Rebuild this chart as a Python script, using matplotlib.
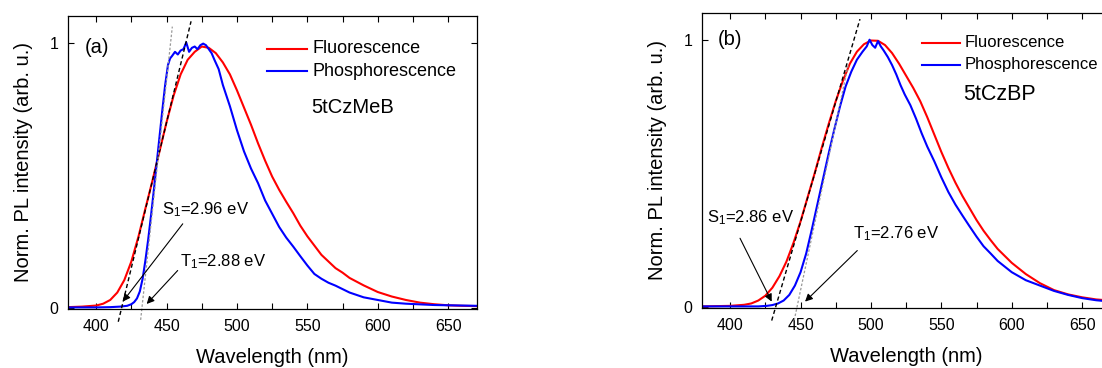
import matplotlib
matplotlib.use('Agg')
import matplotlib.pyplot as plt
from matplotlib.ticker import MultipleLocator, FixedLocator, FuncFormatter

plt.rcParams['font.family'] = ['Liberation Sans', 'DejaVu Sans']
plt.rcParams['mathtext.fontset'] = 'custom'
plt.rcParams['mathtext.rm'] = 'Liberation Sans'
plt.rcParams['mathtext.it'] = 'Liberation Sans:italic'

# ---------------------------------------------------------------------------
# Panel (a): 5tCzMeB
# ---------------------------------------------------------------------------
WL_FL_A = [380, 390, 400, 405, 410, 415, 420, 425, 430, 435, 440, 445, 450,
           455, 460, 465, 470, 475, 480, 485, 490, 495, 500, 505, 510, 515,
           520, 525, 530, 535, 540, 545, 550, 555, 560, 565, 570, 575, 580,
           590, 600, 610, 620, 630, 640, 650, 660, 670]
FL_A = [0.003, 0.005, 0.009, 0.016, 0.030, 0.058, 0.105, 0.175, 0.268, 0.375,
        0.480, 0.590, 0.700, 0.800, 0.880, 0.935, 0.965, 0.985, 0.980, 0.960,
        0.925, 0.880, 0.820, 0.755, 0.690, 0.620, 0.555, 0.495, 0.445, 0.400,
        0.357, 0.310, 0.270, 0.235, 0.200, 0.175, 0.150, 0.133, 0.113, 0.085,
        0.060, 0.043, 0.030, 0.020, 0.014, 0.010, 0.008, 0.007]

WL_PH_A = [380, 400, 410, 417, 422, 425, 427, 429, 431, 433, 435, 437, 439,
           441, 443, 445, 447, 449, 451, 452.5, 454, 456, 458, 460, 462, 464,
           466, 468, 470, 472, 474, 476, 478, 480, 482, 484, 487, 490, 495,
           500, 505, 510, 515, 520, 525, 530, 535, 540, 545, 550, 555, 560,
           565, 570, 580, 590, 600, 610, 620, 640, 670]
PH_A = [0.002, 0.002, 0.003, 0.005, 0.008, 0.014, 0.022, 0.036, 0.062, 0.110,
        0.180, 0.260, 0.350, 0.445, 0.545, 0.645, 0.745, 0.840, 0.915, 0.940,
        0.950, 0.965, 0.955, 0.970, 0.975, 1.000, 0.965, 0.980, 0.985, 0.975,
        0.990, 0.996, 0.990, 0.975, 0.960, 0.935, 0.900, 0.840, 0.760, 0.670,
        0.590, 0.525, 0.470, 0.405, 0.355, 0.305, 0.265, 0.231, 0.195, 0.160,
        0.128, 0.110, 0.095, 0.084, 0.058, 0.040, 0.030, 0.020, 0.016, 0.011,
        0.008]

# onset tangents (wavelength, intensity) end points
S1_FIT_A = ([415.7, 467.4], [-0.052, 1.08])
T1_FIT_A = ([431.6, 454.1], [-0.045, 1.06])

# ---------------------------------------------------------------------------
# Panel (b): 5tCzBP
# ---------------------------------------------------------------------------
WL_FL_B = [380, 400, 410, 415, 420, 425, 430, 435, 440, 445, 450, 455, 460,
           465, 470, 475, 480, 485, 490, 495, 500, 505, 510, 515, 520, 525,
           530, 535, 540, 545, 550, 555, 560, 565, 570, 575, 580, 585, 590,
           600, 610, 620, 630, 640, 650, 660, 670]
FL_B = [0.002, 0.004, 0.008, 0.013, 0.024, 0.042, 0.072, 0.115, 0.170, 0.240,
        0.320, 0.410, 0.500, 0.595, 0.685, 0.770, 0.845, 0.910, 0.955, 0.983,
        0.997, 0.996, 0.980, 0.950, 0.910, 0.865, 0.820, 0.770, 0.710, 0.645,
        0.580, 0.520, 0.465, 0.415, 0.370, 0.325, 0.285, 0.250, 0.217, 0.165,
        0.123, 0.089, 0.063, 0.047, 0.036, 0.028, 0.024]

WL_PH_B = [380, 400, 420, 426, 430, 434, 438, 442, 446, 450, 454, 458, 462,
           466, 470, 474, 478, 482, 486, 490, 494, 497, 499, 501, 503, 505,
           507, 509, 512, 515, 518, 521, 524, 528, 532, 536, 540, 545, 550,
           555, 560, 565, 570, 575, 580, 585, 590, 600, 610, 620, 630, 640,
           650, 660, 670]
PH_B = [0.002, 0.002, 0.002, 0.004, 0.007, 0.013, 0.024, 0.045, 0.080, 0.130,
        0.200, 0.290, 0.385, 0.480, 0.575, 0.665, 0.750, 0.825, 0.880, 0.925,
        0.955, 0.975, 1.000, 0.980, 0.970, 0.995, 0.975, 0.960, 0.935, 0.905,
        0.870, 0.830, 0.795, 0.755, 0.705, 0.650, 0.600, 0.545, 0.485, 0.430,
        0.383, 0.342, 0.302, 0.263, 0.227, 0.200, 0.172, 0.130, 0.100, 0.080,
        0.060, 0.045, 0.033, 0.025, 0.020]

S1_FIT_B = ([429.5, 492.2], [-0.051, 1.077])
T1_FIT_B = ([445.5, 484.0], [-0.050, 0.91])

RED = '#ff0000'
BLUE = '#0000ff'


def style_axes(ax):
    ax.set_xlim(380, 670.5)
    ax.set_ylim(-0.004, 1.10)
    ax.xaxis.set_major_locator(MultipleLocator(50))
    ax.xaxis.set_minor_locator(MultipleLocator(25))
    ax.yaxis.set_major_locator(FixedLocator([0, 1]))
    ax.yaxis.set_major_formatter(FuncFormatter(lambda v, p: f'{v:.0f}'))
    ax.tick_params(which='both', direction='in', top=True, right=True,
                   width=0.8, labelsize=11.5)
    ax.tick_params(which='major', length=4.5, pad=7.5)
    ax.tick_params(which='minor', length=4.5)
    ax.tick_params(axis='y', pad=7)
    for sp in ax.spines.values():
        sp.set_linewidth(0.9)
    ax.set_xlabel('Wavelength (nm)', fontsize=14.5, labelpad=10)
    ax.set_ylabel('Norm. PL intensity (arb. u.)', fontsize=14.5, labelpad=12)


def legend_rows(ax, x0, x1, xt, ys, fs):
    for (y, color, label) in zip(ys, [RED, BLUE],
                                 ['Fluorescence', 'Phosphorescence']):
        ax.plot([x0, x1], [y, y], color=color, lw=1.5)
        ax.text(xt, y, label, fontsize=fs, va='center', ha='left')


def arrow(ax, text, tail, head, txt_xy, fs=12):
    ax.annotate('', xy=head, xytext=tail,
                arrowprops=dict(arrowstyle='-|>', color='black', lw=0.8,
                                mutation_scale=11, shrinkA=0, shrinkB=0))
    ax.text(txt_xy[0], txt_xy[1], text, fontsize=fs, va='center', ha='left')


fig = plt.figure(figsize=(11.02, 3.68), dpi=100)
ax_a = fig.add_axes([68 / 1102, 59 / 368, 409 / 1102, 293 / 368])
ax_b = fig.add_axes([702 / 1102, 60 / 368, 409 / 1102, 295 / 368])

# ---- panel (a) ----
ax = ax_a
style_axes(ax)
ax.plot(WL_FL_A, FL_A, color=RED, lw=1.5)
ax.plot(WL_PH_A, PH_A, color=BLUE, lw=1.5)
ax.plot(*S1_FIT_A, color='black', lw=1.0, ls=(0, (3, 2)), clip_on=False)
ax.plot(*T1_FIT_A, color='#999999', lw=0.9, ls=(0, (2, 1.5)), clip_on=False)
ax.text(392, 0.98, '(a)', fontsize=14.5, va='center', ha='left')
legend_rows(ax, 521, 549.6, 553.5, [0.976, 0.892], 13)
ax.text(553, 0.754, '5tCzMeB', fontsize=14.5, va='center', ha='left')
arrow(ax, 'S$_1$=2.96 eV', (461.5, 0.317), (418.9, 0.024), (447, 0.37))
arrow(ax, 'T$_1$=2.88 eV', (457.9, 0.141), (435.9, 0.015), (459.5, 0.175))

# ---- panel (b) ----
ax = ax_b
style_axes(ax)
ax.plot(WL_FL_B, FL_B, color=RED, lw=1.5)
ax.plot(WL_PH_B, PH_B, color=BLUE, lw=1.5)
ax.plot(*S1_FIT_B, color='black', lw=1.0, ls=(0, (3, 2)), clip_on=False)
ax.plot(*T1_FIT_B, color='#999999', lw=0.9, ls=(0, (2, 1.5)), clip_on=False)
ax.text(391.2, 1.0, '(b)', fontsize=14.5, va='center', ha='left')
legend_rows(ax, 536, 563.2, 566.3, [0.988, 0.906], 12)
ax.text(565.6, 0.794, '5tCzBP', fontsize=15.5, va='center', ha='left')
arrow(ax, 'S$_1$=2.86 eV', (407, 0.257), (429.5, 0.02), (383.8, 0.333))
arrow(ax, 'T$_1$=2.76 eV', (490.3, 0.211), (453.2, 0.02), (487, 0.276))

fig.savefig('out.png', dpi=100)
